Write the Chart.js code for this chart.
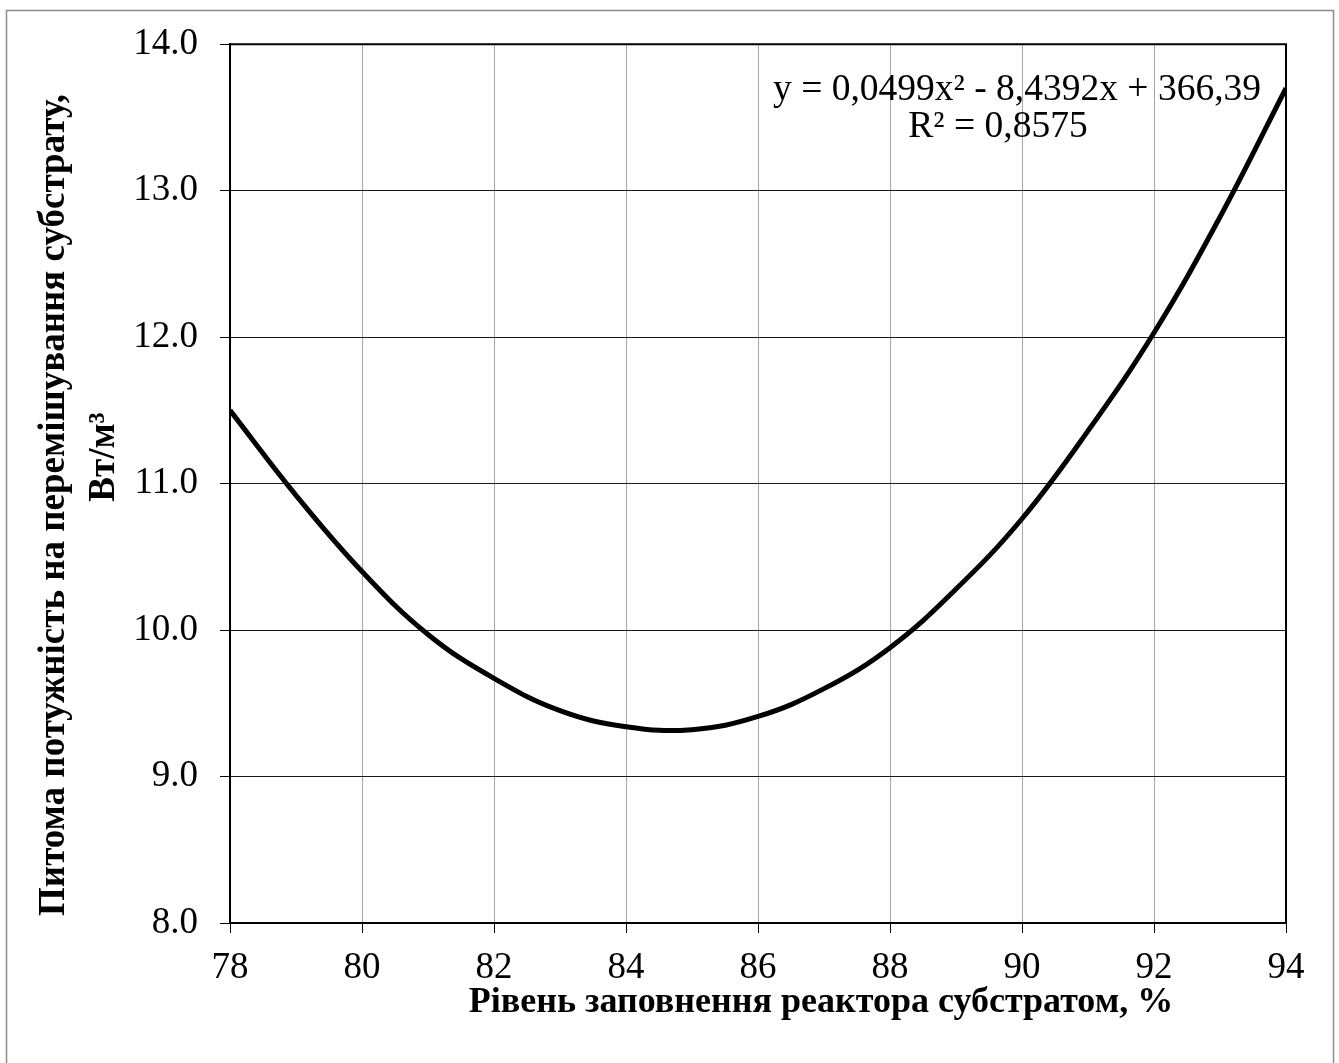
<!DOCTYPE html>
<html>
<head>
<meta charset="utf-8">
<script src="https://cdn.jsdelivr.net/npm/chart.js@4"></script>
<style>
  html, body { margin: 0; padding: 0; background: #fff; }
  canvas { display: block; }
</style>
</head>
<body>
<canvas id="c" width="1339" height="1063"></canvas>
<script>
// ---- data ----
const xValues = [78, 79, 80, 81, 82, 83, 84, 85, 86, 87, 88, 89, 90, 91, 92, 93, 94];
const yValues = [11.50, 10.92, 10.40, 9.97, 9.67, 9.45, 9.34, 9.32, 9.41, 9.60, 9.88, 10.28, 10.76, 11.36, 12.03, 12.82, 13.70];
const xTickStep = 2;
const yTickLabels = ['8.0', '9.0', '10.0', '11.0', '12.0', '13.0', '14.0'];
const xTitle = 'Рівень заповнення реактора субстратом, %';
const yTitleLines = ['Питома потужність на перемішування субстрату,', 'Вт/м³'];
const equationLines = ['y = 0,0499x² - 8,4392x + 366,39', 'R² = 0,8575'];

const SERIF = "'Liberation Serif', 'Times New Roman', serif";

const frame = {
  id: 'frame',
  beforeDraw(chart) {
    const ctx = chart.ctx;
    ctx.save();
    ctx.fillStyle = '#fff';
    ctx.fillRect(0, 0, chart.width, chart.height);
    ctx.strokeStyle = '#8c8c8c';
    ctx.lineWidth = 1.5;
    ctx.strokeRect(6.5, 10.5, 1327, 1060);
    ctx.restore();
  },
  afterDraw(chart) {
    const ctx = chart.ctx;
    const a = chart.chartArea;
    ctx.save();
    ctx.strokeStyle = '#000';
    ctx.lineWidth = 2;
    ctx.beginPath();
    ctx.moveTo(a.left, a.top);
    ctx.lineTo(a.right, a.top);
    ctx.lineTo(a.right, a.bottom);
    ctx.stroke();

    ctx.fillStyle = '#000';
    ctx.font = '37.5px ' + SERIF;
    ctx.textBaseline = 'middle';
    ctx.textAlign = 'right';
    ctx.fillText(equationLines[0], 1261, 90);
    ctx.textAlign = 'center';
    ctx.fillText(equationLines[1], 998, 127);

    ctx.font = 'bold 36px ' + SERIF;
    ctx.textAlign = 'center';
    ctx.fillText(xTitle, 821, 1003);

    ctx.font = 'bold 37px ' + SERIF;
    ctx.save();
    ctx.translate(54, 505);
    ctx.rotate(-Math.PI / 2);
    ctx.fillText(yTitleLines[0], 0, 0);
    ctx.restore();
    ctx.save();
    ctx.translate(104, 457);
    ctx.rotate(-Math.PI / 2);
    ctx.fillText(yTitleLines[1], 0, 0);
    ctx.restore();
    ctx.restore();
  }
};

new Chart(document.getElementById('c'), {
  type: 'line',
  data: {
    datasets: [{
      data: xValues.map((x, i) => ({ x: x, y: yValues[i] })),
      borderColor: '#000',
      borderWidth: 5,
      pointRadius: 0,
      fill: false,
      tension: 0.4
    }]
  },
  options: {
    responsive: false,
    devicePixelRatio: 1,
    animation: false,
    layout: { padding: { top: 44, right: 53, left: 0, bottom: 0 } },
    plugins: { legend: { display: false }, tooltip: { enabled: false } },
    scales: {
      x: {
        type: 'linear',
        min: xValues[0],
        max: xValues[xValues.length - 1],
        ticks: { stepSize: xTickStep, color: '#000', font: { family: SERIF, size: 37 }, padding: 13, maxRotation: 0 },
        grid: { color: '#a6a6a6', lineWidth: 1, tickColor: '#000', tickLength: 10, drawTicks: true },
        border: { display: true, color: '#000', width: 2 },
        afterFit(s) { s.height = 140; }
      },
      y: {
        type: 'linear',
        min: 8,
        max: 14,
        ticks: {
          stepSize: 1, color: '#000', font: { family: SERIF, size: 37 }, padding: 22,
          callback: (v) => yTickLabels[Math.round(v - 8)]
        },
        grid: { color: '#1a1a1a', lineWidth: 1, tickColor: '#000', tickLength: 10, drawTicks: true },
        border: { display: true, color: '#000', width: 2 },
        afterFit(s) { s.width = 230; }
      }
    }
  },
  plugins: [frame]
});
</script>
</body>
</html>
